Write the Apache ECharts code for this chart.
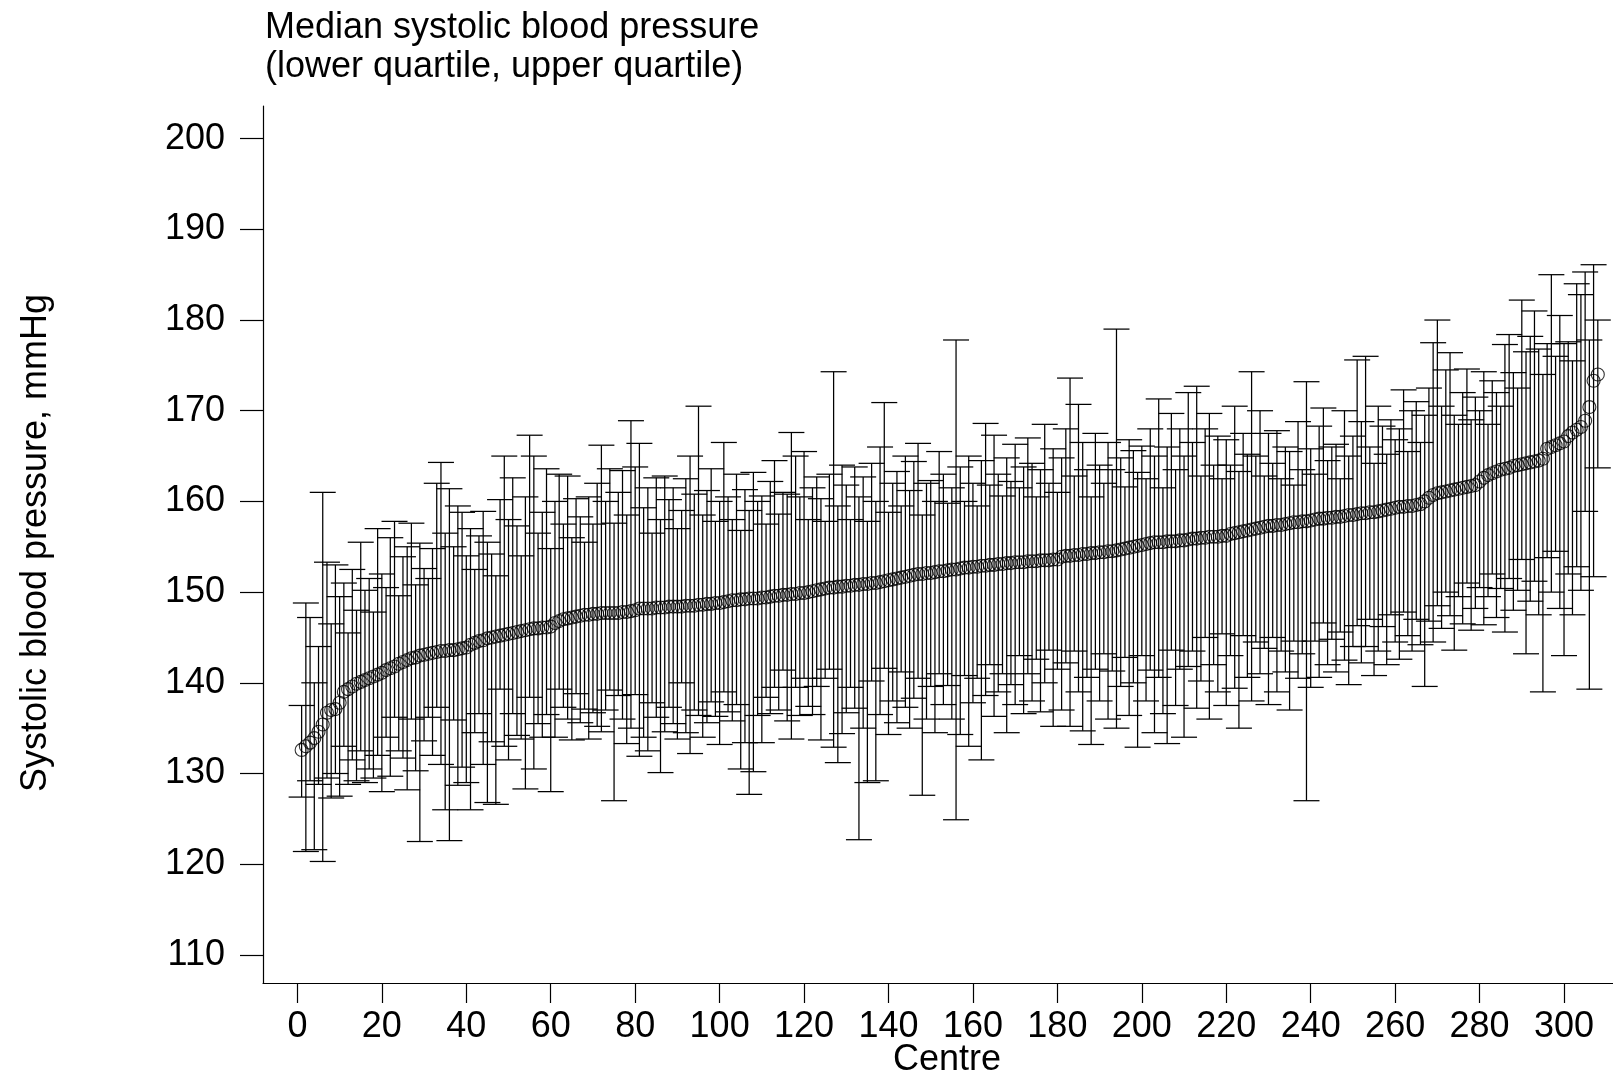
<!DOCTYPE html>
<html>
<head>
<meta charset="utf-8">
<script src="https://cdn.jsdelivr.net/npm/echarts@6/dist/echarts.min.js"></script>
<style>
html,body{margin:0;padding:0;background:#fff;}
#chart{width:1613px;height:1077px;}
</style>
</head>
<body>
<div id="chart"></div>
<script>
const titleText = "Median systolic blood pressure\n(lower quartile, upper quartile)";
const yAxisTitle = "Systolic blood pressure, mmHg";
const xAxisTitle = "Centre";
const yTicks = [110,120,130,140,150,160,170,180,190,200];
const xTicks = [0,20,40,60,80,100,120,140,160,180,200,220,240,260,280,300];

const medians = [
132.6,133.0,133.4,133.9,134.6,135.4,136.7,137.0,137.1,137.8,
139.0,139.3,139.6,139.9,140.1,140.3,140.5,140.7,140.9,141.1,
141.4,141.6,141.8,142.1,142.3,142.5,142.7,142.8,143.0,143.1,
143.2,143.3,143.4,143.5,143.5,143.6,143.6,143.7,143.8,143.9,
144.2,144.4,144.6,144.7,144.9,145.0,145.1,145.2,145.3,145.4,
145.5,145.6,145.7,145.8,145.9,146.0,146.0,146.1,146.1,146.2,
146.6,146.8,147.0,147.1,147.2,147.3,147.4,147.5,147.5,147.6,
147.6,147.7,147.7,147.7,147.7,147.7,147.8,147.8,147.9,148.0,
148.2,148.2,148.2,148.2,148.3,148.3,148.3,148.4,148.4,148.4,
148.4,148.5,148.5,148.5,148.6,148.6,148.7,148.7,148.8,148.8,
148.9,149.0,149.1,149.1,149.2,149.2,149.3,149.3,149.3,149.4,
149.4,149.5,149.6,149.6,149.7,149.7,149.8,149.8,149.9,149.9,
150.0,150.1,150.2,150.3,150.4,150.5,150.5,150.6,150.6,150.7,
150.7,150.8,150.8,150.9,150.9,151.0,151.0,151.1,151.2,151.3,
151.4,151.5,151.6,151.7,151.8,151.9,152.0,152.0,152.1,152.1,
152.2,152.3,152.3,152.4,152.5,152.5,152.6,152.7,152.7,152.8,
152.8,152.9,152.9,153.0,153.0,153.1,153.1,153.2,153.2,153.3,
153.3,153.3,153.4,153.4,153.4,153.5,153.5,153.5,153.6,153.6,
153.9,154.0,154.0,154.1,154.1,154.2,154.2,154.3,154.3,154.4,
154.4,154.5,154.5,154.6,154.7,154.8,154.9,155.0,155.1,155.2,
155.3,155.4,155.5,155.5,155.5,155.6,155.6,155.6,155.7,155.7,
155.8,155.9,155.9,156.0,156.0,156.1,156.1,156.1,156.2,156.2,
156.4,156.5,156.6,156.7,156.8,156.9,157.0,157.1,157.2,157.3,
157.3,157.4,157.4,157.5,157.6,157.7,157.7,157.8,157.8,157.9,
158.0,158.1,158.1,158.2,158.2,158.3,158.3,158.4,158.5,158.5,
158.6,158.7,158.7,158.8,158.8,158.9,159.0,159.1,159.2,159.3,
159.4,159.4,159.5,159.5,159.6,159.7,160.0,160.4,160.7,160.9,
161.0,161.1,161.2,161.3,161.4,161.5,161.6,161.7,161.8,162.2,
162.6,162.9,163.1,163.3,163.5,163.6,163.7,163.9,164.0,164.1,
164.2,164.3,164.4,164.5,164.7,165.8,166.0,166.2,166.4,166.6,
167.2,167.6,167.9,168.2,168.9,170.4,173.3,174.0
];

const upperQuartile = [
137.5,148.8,147.2,140.0,144.0,161.0,153.3,146.5,153.0,149.5,
151.0,145.5,152.5,148.0,155.5,150.2,151.5,147.8,157.0,152.0,
150.5,156.0,157.8,149.6,153.9,155.0,157.6,150.8,155.4,152.6,
151.5,154.8,162.0,164.3,156.5,161.4,155.0,159.5,158.8,154.0,
157.0,152.5,156.2,158.9,155.5,154.2,151.8,160.2,165.0,158.0,
162.6,157.3,154.0,160.5,167.3,165.0,156.5,158.8,163.6,154.8,
160.0,163.0,157.5,162.8,156.0,160.3,158.3,155.5,160.5,157.5,
162.0,166.2,160.0,163.6,157.6,161.0,163.4,158.5,168.9,163.8,
166.4,159.3,161.5,156.5,162.6,158.0,162.8,160.2,161.5,157.0,
159.0,162.5,165.0,160.8,170.5,158.5,161.2,163.6,157.8,160.0,
166.5,160.5,158.0,163.0,156.8,161.3,159.0,163.2,160.0,160.6,
157.5,162.2,164.5,158.6,161.0,160.8,167.6,165.0,160.5,165.5,
158.0,161.5,162.7,160.3,157.8,163.0,174.3,159.5,164.0,161.8,
158.0,163.8,160.5,162.7,157.8,164.2,160.0,166.0,170.9,158.8,
162.0,163.3,159.5,165.0,161.2,164.4,166.4,158.5,162.0,162.3,
160.0,165.5,163.0,159.8,161.5,177.8,163.8,160.0,165.0,162.0,
159.5,164.5,168.6,161.8,167.3,163.0,160.6,164.8,162.2,166.3,
161.5,163.8,167.0,164.2,160.5,163.5,168.5,162.0,165.8,161.0,
164.8,168.0,173.6,162.8,170.7,166.5,163.5,160.5,167.5,164.0,
162.0,166.5,163.5,179.0,164.8,161.6,166.8,165.6,163.2,166.1,
162.5,168.0,165.0,171.3,161.5,166.0,169.7,163.5,168.0,165.0,
172.0,166.5,172.7,162.8,168.0,169.7,164.0,167.2,162.5,166.8,
164.0,170.5,163.3,167.5,165.2,174.3,165.0,170.0,162.8,167.5,
164.2,167.8,162.5,166.0,165.5,161.8,168.8,163.5,173.2,165.8,
163.0,168.3,170.3,164.5,166.0,166.3,162.5,170.0,165.0,167.2,
175.6,168.8,176.0,166.0,164.2,170.5,168.3,165.2,169.0,166.8,
168.0,172.3,165.5,170.0,171.0,166.5,169.5,172.5,177.5,180.0,
170.5,174.5,176.4,169.5,168.5,172.0,174.6,169.0,171.5,170.0,
174.3,168.5,173.3,172.0,170.5,177.3,178.4,174.2,172.5,182.2,
176.5,178.2,181.0,176.8,174.0,177.4,185.0,176.0,180.5,177.4,
177.6,175.5,184.0,182.8,185.3,177.8,186.1,180.0
];

const lowerQuartile = [
127.4,121.4,129.2,121.6,128.8,120.3,129.5,127.3,130.0,127.5,
133.0,128.8,131.5,129.2,132.5,129.0,130.5,129.5,132.0,128.0,
134.0,129.7,136.2,132.5,131.7,128.2,136.0,130.3,122.5,133.6,
136.2,132.0,137.3,131.0,126.0,122.6,135.9,128.7,130.7,129.0,
126.0,134.5,136.6,131.0,126.8,133.5,126.6,139.3,133.0,131.5,
136.6,134.2,133.8,128.3,138.4,130.5,135.5,134.0,136.5,128.0,
134.0,139.3,137.3,136.0,133.7,138.8,135.6,137.1,133.8,136.7,
135.2,134.6,137.0,139.2,127.0,138.6,136.0,133.3,135.0,138.7,
131.9,134.0,132.5,137.8,136.2,130.1,134.6,137.3,135.5,133.8,
140.0,134.5,132.2,137.0,136.4,134.0,135.6,137.9,136.3,133.2,
139.0,136.8,135.8,137.6,130.5,133.4,127.7,130.2,136.4,133.4,
138.4,136.6,139.5,137.0,141.4,135.8,133.8,139.5,136.4,140.5,
137.4,136.5,139.6,133.7,140.5,141.5,132.9,131.2,134.4,136.7,
139.5,137.2,122.7,135.0,129.0,140.2,129.2,136.5,141.6,134.3,
138.0,135.6,141.2,137.3,135.0,138.3,140.5,127.6,136.0,139.6,
134.5,141.0,137.6,139.7,136.0,124.9,134.3,140.8,133.0,137.8,
140.5,131.5,138.6,142.0,136.3,139.0,141.0,134.5,139.8,137.6,
143.0,136.6,141.0,138.0,142.6,136.8,140.0,143.6,135.2,141.5,
137.0,142.2,135.2,143.5,139.0,134.7,140.6,133.2,141.5,138.0,
143.2,136.0,141.3,135.0,139.6,142.8,136.4,140.0,132.9,143.0,
138.0,141.4,134.5,140.6,136.6,133.3,143.6,137.5,141.5,134.0,
141.8,143.5,137.2,140.2,145.0,136.0,142.0,139.0,145.4,137.5,
143.0,139.4,135.0,145.2,140.6,138.0,144.5,141.0,143.8,137.6,
145.0,139.0,143.5,141.2,137.0,144.6,140.5,143.2,127.0,139.5,
144.6,140.6,146.6,142.0,144.8,141.2,145.6,142.5,139.8,144.0,
146.3,142.2,144.0,147.0,140.8,143.5,146.2,142.0,147.5,144.5,
142.6,147.8,145.2,143.5,147.0,144.2,139.6,146.8,144.5,148.5,
146.0,150.0,147.4,143.6,149.5,146.5,151.0,145.8,148.2,150.5,
146.4,149.5,152.0,147.2,150.4,145.6,151.5,148.0,150.2,153.6,
143.2,149.0,151.2,147.5,139.0,153.8,150.0,154.5,148.2,143.0,
152.0,147.5,152.8,150.2,158.9,139.3,151.7,163.7
];

// centre numbers are ordinal identifiers 1..N
const centres = medians.map((_, i) => i + 1);

const barData = centres.map((c, i) => [c, lowerQuartile[i], upperQuartile[i]]);
const pointData = centres.map((c, i) => [c, medians[i]]);

const FONT = "'Liberation Sans', Arial, Helvetica, sans-serif";
const FS = 36;

function renderBar(params, api) {
  const x = api.value(0), lo = api.value(1), hi = api.value(2);
  const pHi = api.coord([x, hi]);
  const pLo = api.coord([x, lo]);
  const hw = 13;
  const st = { stroke: '#000', lineWidth: 1.25 };
  return {
    type: 'group',
    children: [
      { type: 'line', shape: { x1: pHi[0], y1: pHi[1], x2: pLo[0], y2: pLo[1] }, style: st },
      { type: 'line', shape: { x1: pHi[0] - hw, y1: pHi[1], x2: pHi[0] + hw, y2: pHi[1] }, style: st },
      { type: 'line', shape: { x1: pLo[0] - hw, y1: pLo[1], x2: pLo[0] + hw, y2: pLo[1] }, style: st }
    ]
  };
}

const chart = echarts.init(document.getElementById('chart'), null, { renderer: 'canvas' });
chart.setOption({
  animation: false,
  backgroundColor: '#fff',
  title: {
    text: titleText,
    left: 260,
    top: 4,
    textStyle: { fontFamily: FONT, fontSize: FS, fontWeight: 'normal', color: '#000', lineHeight: 39 }
  },
  grid: { left: 263, top: 106, right: 0, bottom: 94, containLabel: false },
  xAxis: {
    type: 'value',
    min: -8.15,
    max: 311.6,
    axisLine: { show: true, onZero: false, lineStyle: { color: '#000', width: 1.2 } },
    axisTick: { show: true, customValues: xTicks, length: 20, lineStyle: { color: '#000', width: 1.2 } },
    axisLabel: { customValues: xTicks, margin: 26, fontFamily: FONT, fontSize: FS, color: '#000' },
    splitLine: { show: false }
  },
  yAxis: {
    type: 'value',
    min: 106.9,
    max: 203.6,
    axisLine: { show: true, onZero: false, lineStyle: { color: '#000', width: 1.2 } },
    axisTick: { show: true, customValues: yTicks, length: 23, lineStyle: { color: '#000', width: 1.2 } },
    axisLabel: { customValues: yTicks, margin: 38, fontFamily: FONT, fontSize: FS, color: '#000' },
    splitLine: { show: false }
  },
  graphic: [
    {
      type: 'text',
      x: 947, y: 1060,
      style: { text: xAxisTitle, font: FS + "px " + FONT, fill: '#000', textAlign: 'center', textVerticalAlign: 'middle' }
    },
    {
      type: 'text',
      x: 36, y: 543,
      rotation: Math.PI / 2,
      style: { text: yAxisTitle, font: FS + "px " + FONT, fill: '#000', textAlign: 'center', textVerticalAlign: 'middle' }
    }
  ],
  series: [
    {
      type: 'custom',
      renderItem: renderBar,
      data: barData,
      encode: { x: 0, y: [1, 2] },
      z: 2,
      silent: true
    },
    {
      type: 'scatter',
      data: pointData,
      symbol: 'circle',
      symbolSize: 13,
      itemStyle: { color: 'rgba(0,0,0,0)', borderColor: '#000', borderWidth: 1.1 },
      z: 3,
      silent: true
    }
  ]
});
</script>
</body>
</html>
